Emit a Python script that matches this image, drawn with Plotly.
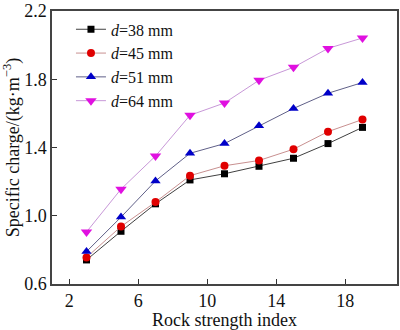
import plotly.graph_objects as go

x_vals = [3, 5, 7, 9, 11, 13, 15, 17, 19]
d38 = [0.741, 0.909, 1.07, 1.21, 1.246, 1.29, 1.337, 1.423, 1.518]
d45 = [0.756, 0.937, 1.08, 1.235, 1.293, 1.324, 1.39, 1.493, 1.564]
d51 = [0.790, 0.992, 1.204, 1.366, 1.423, 1.527, 1.629, 1.718, 1.781]
d64 = [0.905, 1.156, 1.35, 1.589, 1.661, 1.794, 1.870, 1.981, 2.042]

names = ["<i>d</i>=38 mm", "<i>d</i>=45 mm", "<i>d</i>=51 mm", "<i>d</i>=64 mm"]
series = [d38, d45, d51, d64]
marker_colors = ["#000000", "#e00000", "#0000c8", "#e010e0"]
line_colors = ["#404040", "#c89090", "#606088", "#c898d8"]
symbols = ["square", "circle", "triangle-up", "triangle-down"]
sizes = [7, 8, 9, 10]

fig = go.Figure()
for n, s, mc, lc, sym, sz in zip(names, series, marker_colors, line_colors, symbols, sizes):
    fig.add_trace(go.Scatter(
        x=x_vals, y=s, name=n, mode="lines+markers",
        line=dict(color=lc, width=1),
        marker=dict(color=mc, symbol=sym, size=sz, line=dict(width=0)),
    ))

font_family = "Liberation Serif"
fig.update_layout(
    width=400, height=330,
    margin=dict(l=52, r=3, t=11, b=46),
    paper_bgcolor="white", plot_bgcolor="white",
    font=dict(family=font_family, size=18, color="#111"),
    showlegend=True,
    legend=dict(x=0.055, y=0.995, xanchor="left", yanchor="top",
                bgcolor="rgba(0,0,0,0)", font=dict(size=16, family=font_family),
                tracegroupgap=0, itemwidth=30),
    xaxis=dict(range=[1, 21], tickvals=[2, 6, 10, 14, 18], ticks="inside", ticklen=5,
               tickcolor="#333", showline=True, linecolor="#444", linewidth=1.5, mirror=True,
               showgrid=False, zeroline=False, tickfont=dict(size=18),
               ticklabeloverflow="allow", automargin=False,
               title=dict(text="Rock strength index", standoff=4, font=dict(size=18))),
    yaxis=dict(range=[0.6, 2.2001], tickvals=[0.6, 1.0, 1.4, 1.8, 2.2], tickformat=".1f",
               ticks="inside", ticklen=5, tickcolor="#333", tickfont=dict(size=18),
               ticklabeloverflow="allow", automargin=False,
               showline=True, linecolor="#444", linewidth=1.5, mirror=True,
               showgrid=False, zeroline=False,
               title=dict(text="Specific charge/(kg·m<sup>−3</sup>)", standoff=2, font=dict(size=18))),
)

fig.write_html("out.html")
